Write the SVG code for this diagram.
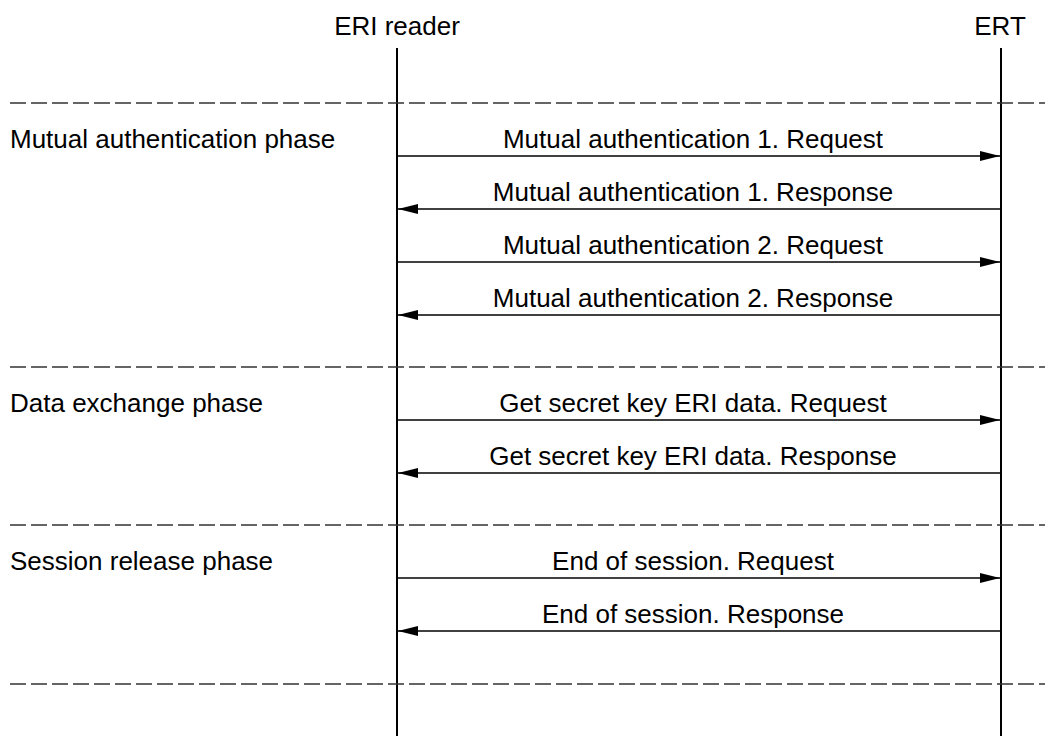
<svg xmlns="http://www.w3.org/2000/svg" width="1045" height="736" viewBox="0 0 1045 736">
<style>
text{font-family:"Liberation Sans",Arial,sans-serif;font-size:26px;fill:#000}
.mid{text-anchor:middle}
.life{stroke:#000;stroke-width:2;fill:none}
.sep{stroke:#333;stroke-width:1.5;stroke-dasharray:16 5;fill:none}
.msg{stroke:#000;stroke-width:1.5;fill:none}
</style>
<defs>
<marker id="ah" markerWidth="20" markerHeight="10" refX="20" refY="5" orient="auto" markerUnits="userSpaceOnUse">
<path d="M0,0 L20,5 L0,10 Z" fill="#000"/>
</marker>
</defs>
<rect width="1045" height="736" fill="#fff"/>
<g id="reader">
<text class="mid" x="397" y="35">ERI reader</text>
<line class="life" x1="397" y1="48" x2="397" y2="736"/>
</g>
<g id="ert">
<text class="mid" x="1000" y="35">ERT</text>
<line class="life" x1="1001" y1="48" x2="1001" y2="736"/>
</g>
<g id="separators">
<line class="sep" x1="10" y1="103" x2="1045" y2="103"/>
<line class="sep" x1="10" y1="367" x2="1045" y2="367"/>
<line class="sep" x1="10" y1="525" x2="1045" y2="525"/>
<line class="sep" x1="10" y1="684" x2="1045" y2="684"/>
</g>
<g id="phase-mutual"><text x="10" y="148">Mutual authentication phase</text></g>
<g id="phase-data"><text x="10" y="412">Data exchange phase</text></g>
<g id="phase-session"><text x="10" y="570">Session release phase</text></g>
<g id="connectors">
<line class="msg" x1="397" y1="156" x2="1000" y2="156" marker-end="url(#ah)"/>
<line class="msg" x1="1001" y1="209" x2="398" y2="209" marker-end="url(#ah)"/>
<line class="msg" x1="397" y1="262" x2="1000" y2="262" marker-end="url(#ah)"/>
<line class="msg" x1="1001" y1="315" x2="398" y2="315" marker-end="url(#ah)"/>
<line class="msg" x1="397" y1="420" x2="1000" y2="420" marker-end="url(#ah)"/>
<line class="msg" x1="1001" y1="473" x2="398" y2="473" marker-end="url(#ah)"/>
<line class="msg" x1="397" y1="578" x2="1000" y2="578" marker-end="url(#ah)"/>
<line class="msg" x1="1001" y1="631" x2="398" y2="631" marker-end="url(#ah)"/>
</g>
<g id="labels">
<text class="mid" x="693" y="148">Mutual authentication 1. Request</text>
<text class="mid" x="693" y="201">Mutual authentication 1. Response</text>
<text class="mid" x="693" y="254">Mutual authentication 2. Request</text>
<text class="mid" x="693" y="307">Mutual authentication 2. Response</text>
<text class="mid" x="693" y="412">Get secret key ERI data. Request</text>
<text class="mid" x="693" y="465">Get secret key ERI data. Response</text>
<text class="mid" x="693" y="570">End of session. Request</text>
<text class="mid" x="693" y="623">End of session. Response</text>
</g>
</svg>
